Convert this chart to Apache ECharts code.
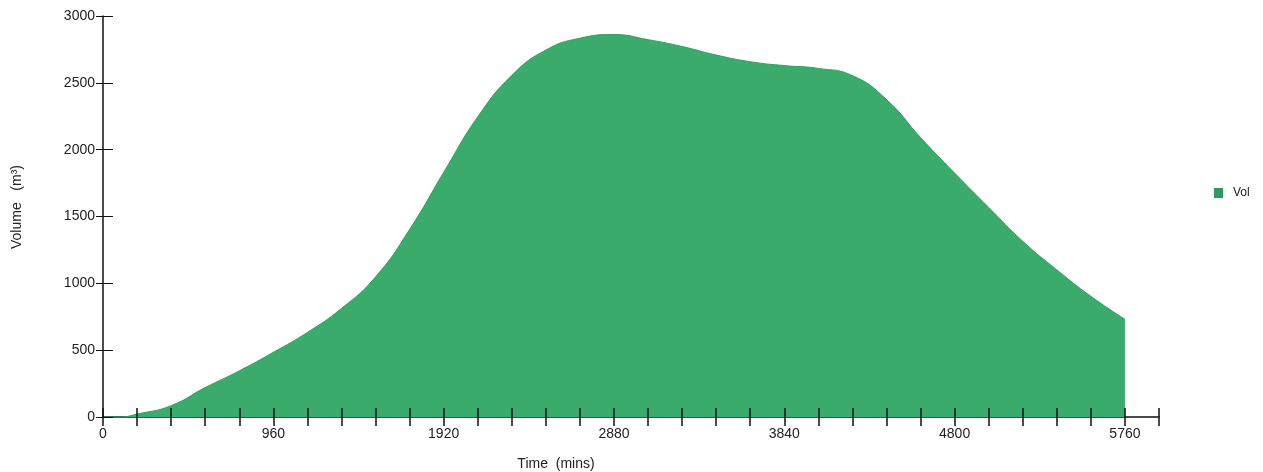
<!DOCTYPE html>
<html>
<head>
<meta charset="utf-8">
<script src="https://cdn.jsdelivr.net/npm/echarts@6/dist/echarts.min.js"></script>
<style>
html,body{margin:0;padding:0;background:#fff;}
#chart{width:1263px;height:472px;}
</style>
</head>
<body>
<div id="chart"></div>
<script>
const times = [0,96,192,384,576,768,960,1152,1344,1536,1728,1920,2112,2304,2496,2688,2880,3072,3264,3456,3648,3840,4032,4224,4416,4608,4800,4992,5184,5376,5568,5760];
const volumes = [0,0,22,85,220,345,484,633,812,1048,1403,1830,2245,2555,2745,2834,2861,2823,2772,2708,2658,2629,2608,2554,2375,2091,1825,1568,1315,1101,903,731];
const xLabels = [0,960,1920,2880,3840,4800,5760];
const yLabels = [0,500,1000,1500,2000,2500,3000];
const seriesName = 'Vol';
const xTitle = 'Time  (mins)';
const yTitle = 'Volume   (m³)';

const font = 'Liberation Sans, Arial, sans-serif';
const chart = echarts.init(document.getElementById('chart'));
chart.setOption({
  animation:false,
  backgroundColor:'#fff',
  grid:{left:103,right:104,top:16,bottom:55,containLabel:false},
  legend:{
    left:1214, top:187, orient:'vertical', padding:0,
    icon:'rect', itemWidth:9, itemHeight:10, itemGap:10,
    textStyle:{fontFamily:font,fontSize:12,color:'#222',padding:[0,0,0,5]},
    data:[seriesName]
  },
  graphic:[
    {type:'text', x:556, y:464,
     style:{text:xTitle,fontFamily:font,fontSize:14,fill:'#222',align:'center',verticalAlign:'middle'}},
    {type:'text', x:17, y:207, rotation:Math.PI/2,
     style:{text:yTitle,fontFamily:font,fontSize:14,fill:'#222',align:'center',verticalAlign:'middle'}}
  ],
  xAxis:[
    {type:'value',min:0,max:5952,interval:192,position:'bottom',
     axisLine:{show:true,lineStyle:{color:'#111',width:1.5}},
     axisTick:{show:true,length:9,inside:false,lineStyle:{color:'#111',width:1.5}},
     axisLabel:{margin:10,fontFamily:font,fontSize:14,color:'#222',
       formatter:v=> xLabels.includes(v)?String(v):''},
     splitLine:{show:false}},
    {type:'value',min:0,max:5952,interval:192,position:'bottom',z:10,
     axisLine:{show:false},
     axisTick:{show:true,length:9,inside:true,lineStyle:{color:'#111',width:1.5}},
     axisLabel:{show:false},splitLine:{show:false}}
  ],
  yAxis:[
    {type:'value',min:0,max:3000,interval:500,position:'left',z:10,
     axisLine:{show:true,lineStyle:{color:'#111',width:1.5}},
     axisTick:{show:true,length:7,inside:false,lineStyle:{color:'#111',width:1}},
     axisLabel:{margin:8,fontFamily:font,fontSize:14,color:'#222',
       formatter:v=> yLabels.includes(v)?String(v):''},
     splitLine:{show:false}},
    {type:'value',min:0,max:3000,interval:500,position:'left',z:10,
     axisLine:{show:false},
     axisTick:{show:true,length:10,inside:true,lineStyle:{color:'#111',width:1}},
     axisLabel:{show:false},splitLine:{show:false}}
  ],
  series:[{
    name:seriesName,type:'line',smooth:0.5,showSymbol:false,
    xAxisIndex:0,yAxisIndex:0,
    data:times.map((t,i)=>[t,volumes[i]]),
    lineStyle:{color:'#30a061',width:1},
    itemStyle:{color:'#2e9a60'},
    areaStyle:{color:'#3aab6b',opacity:1},
    z:1
  }]
});
</script>
</body>
</html>
